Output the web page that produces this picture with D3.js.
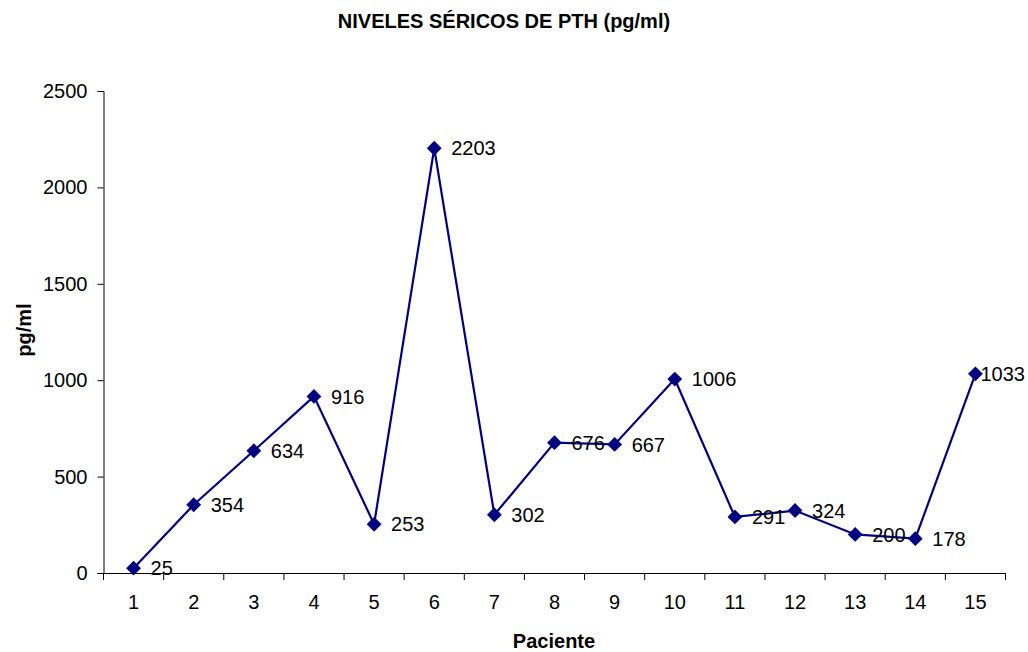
<!DOCTYPE html>
<html>
<head>
<meta charset="utf-8">
<script src="https://cdn.jsdelivr.net/npm/d3@7"></script>
<style>
  html, body { margin: 0; padding: 0; background: #fff; }
  svg { display: block; font-family: "Liberation Sans", Arial, sans-serif; }
</style>
</head>
<body>
<svg id="chart" width="1028" height="652"></svg>
<script>
// PTH serum levels per patient
const pacientes = ["1","2","3","4","5","6","7","8","9","10","11","12","13","14","15"];
const pth = [25, 354, 634, 916, 253, 2203, 302, 676, 667, 1006, 291, 324, 200, 178, 1033];
const yTicks = [0, 500, 1000, 1500, 2000, 2500];

const svg = d3.select("#chart");
const W = 1028;
const plotLeft = 103.5, plotRight = 1005.5, plotTop = 91, plotBottom = 573;
const color = "#000080";
const fontSize = 20;

const x = d3.scaleBand().domain(pacientes).range([plotLeft, plotRight]);
const y = d3.scaleLinear().domain([0, 2500]).range([plotBottom, plotTop]);

// Axes
const yAxis = svg.append("g")
  .attr("transform", `translate(${plotLeft},0)`)
  .call(d3.axisLeft(y).tickValues(yTicks).tickSize(6).tickPadding(10).tickFormat(d3.format("d")));
const xAxis = svg.append("g")
  .attr("transform", `translate(0,${plotBottom})`)
  .call(d3.axisBottom(x).tickSize(0).tickPadding(22));

// Category boundary ticks on the x axis
const bounds = pacientes.map(p => x(p)).concat([plotRight]);
xAxis.selectAll(".bound").data(bounds).enter().append("line")
  .attr("class", "bound")
  .attr("x1", d => d).attr("x2", d => d)
  .attr("y1", 0).attr("y2", 7)
  .attr("stroke", "#000").attr("stroke-width", 1);

[yAxis, xAxis].forEach(g => {
  g.select(".domain").attr("stroke", "#000").attr("stroke-width", 1);
  g.selectAll(".tick line").attr("stroke", "#000");
  g.selectAll("text").attr("font-size", fontSize).attr("fill", "#000")
    .attr("font-family", "'Liberation Sans', Arial, sans-serif");
});

const cx = p => x(p) + x.bandwidth() / 2;

// Series line
const line = d3.line().x((d, i) => cx(pacientes[i])).y(d => y(d));
svg.append("path").datum(pth)
  .attr("d", line)
  .attr("fill", "none")
  .attr("stroke", color)
  .attr("stroke-width", 2.2);

// Diamond markers
const sym = d3.symbol().type(d3.symbolSquare).size(110);
svg.selectAll(".marker").data(pth).enter().append("path")
  .attr("class", "marker")
  .attr("d", sym)
  .attr("transform", (d, i) => `translate(${cx(pacientes[i])},${y(d)}) rotate(45)`)
  .attr("fill", color);

// Value labels to the right of each point
const labels = svg.selectAll(".val").data(pth).enter().append("text")
  .attr("class", "val")
  .attr("font-size", fontSize)
  .attr("fill", "#000")
  .attr("dy", "0.36em")
  .attr("y", d => y(d))
  .text(d => d);
labels.each(function(d, i) {
  const t = d3.select(this);
  const w = this.getComputedTextLength();
  const px = cx(pacientes[i]) + 17;
  t.attr("x", Math.min(px, W - 3 - w));
});

// Titles
svg.append("text")
  .attr("x", 504).attr("y", 28)
  .attr("text-anchor", "middle")
  .attr("font-size", 20).attr("font-weight", "bold")
  .text("NIVELES SÉRICOS DE PTH (pg/ml)");

svg.append("text")
  .attr("x", 554).attr("y", 648)
  .attr("text-anchor", "middle")
  .attr("font-size", 20).attr("font-weight", "bold")
  .text("Paciente");

svg.append("text")
  .attr("transform", "translate(31,330) rotate(-90)")
  .attr("text-anchor", "middle")
  .attr("font-size", 20).attr("font-weight", "bold")
  .text("pg/ml");
</script>
</body>
</html>
